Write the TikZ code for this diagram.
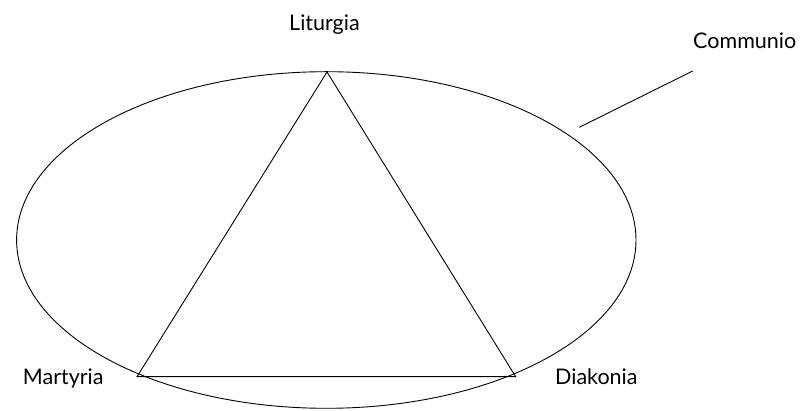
\documentclass[tikz,border=0pt]{standalone}
\usepackage{fontspec}
\setmainfont{Lato}
\begin{document}
\begin{tikzpicture}[x=1pt,y=-1pt,
  lbl/.style={inner sep=0pt,anchor=base west,font=\fontsize{21.5}{24}\selectfont},
  ln/.style={draw=black,line width=0.9pt}]
\useasboundingbox (0,0) rectangle (807,411);
\draw[ln] (326.3,240) ellipse [x radius=309.7,y radius=168.3];
\coordinate (L) at (327,72);
\coordinate (M) at (137,376.7);
\coordinate (D) at (515.7,376.7);
\draw[ln] (L) -- (M) -- (D) -- cycle;
\coordinate (c1) at (579.3,127.3);
\coordinate (c2) at (692.7,71);
\draw[ln] (c1) -- (c2);
\node[lbl] (tl) at (289,30.7) {Liturgia};
\node[lbl] (tm) at (22.7,385) {Martyria};
\node[lbl] (td) at (555,385) {Diakonia};
\node[lbl] (tc) at (693,48.3) {Communio};
\end{tikzpicture}
\end{document}
